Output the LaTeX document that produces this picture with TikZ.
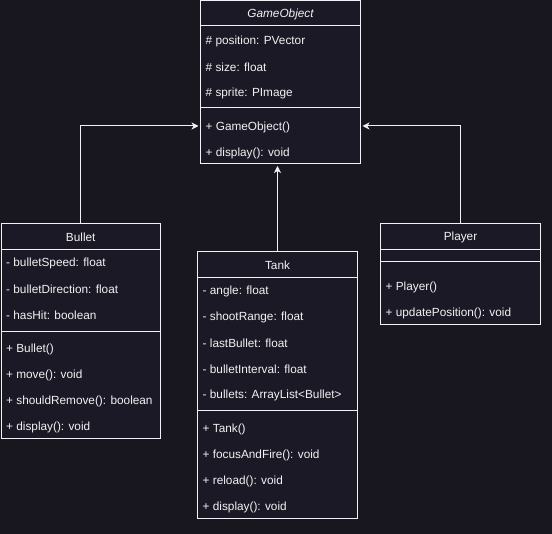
\documentclass[tikz,border=0pt]{standalone}
\usepackage{fontspec}
\setmainfont{Liberation Sans}
\usetikzlibrary{arrows.meta}
\definecolor{bg}{HTML}{18161F}
\definecolor{boxfill}{HTML}{1B1926}
\definecolor{ink}{HTML}{F2F2F2}
\begin{document}
\begin{tikzpicture}[x=1pt,y=-1pt,
  classbox/.style={draw=ink,fill=boxfill,line width=1pt,anchor=north west,inner sep=0pt,outer sep=0pt},
  member/.style={anchor=west,text=ink,inner sep=0pt,yshift=-1pt,font=\fontsize{11.8}{14}\selectfont},
  title/.style={anchor=center,text=ink,inner sep=0pt,yshift=-1pt,font=\fontsize{11.8}{14}\selectfont},
  sepline/.style={draw=ink,line width=1pt},
  inherit/.style={draw=ink,line width=1pt,-{Stealth[length=7pt,width=7pt,inset=2pt]},shorten >=2pt}]
\fill[bg] (0,0) rectangle (552,534);
\useasboundingbox (0,0) rectangle (552,534);

% GameObject
\node[classbox,minimum width=160pt,minimum height=163.5pt] (go) at (200.5,0.5) {};
\draw[sepline] (200.5,26) -- (360.5,26);
\draw[sepline] (200.5,108) -- (360.5,108);
\node[title] (got) at (280.5,13.5) {\itshape GameObject};
\node[member] (goa1) at (205.5,40) {\# position: PVector};
\node[member] (goa2) at (205.5,66) {\# size: float};
\node[member] (goa3) at (205.5,92) {\# sprite: PImage};
\node[member] (gom1) at (205.5,126) {+ GameObject()};
\node[member] (gom2) at (205.5,152) {+ display(): void};

% Bullet
\node[classbox,minimum width=159.5pt,minimum height=215.5pt] (bullet) at (1,223.5) {};
\draw[sepline] (1,249.5) -- (160.5,249.5);
\draw[sepline] (1,331.5) -- (160.5,331.5);
\node[title] (bt) at (80.75,236.5) {Bullet};
\node[member] (ba1) at (6,262.5) {- bulletSpeed: float};
\node[member] (ba2) at (6,288.5) {- bulletDirection: float};
\node[member] (ba3) at (6,314.5) {- hasHit: boolean};
\node[member] (bm1) at (6,348.5) {+ Bullet()};
\node[member] (bm2) at (6,374.5) {+ move(): void};
\node[member] (bm3) at (6,400.5) {+ shouldRemove(): boolean};
\node[member] (bm4) at (6,426.5) {+ display(): void};

% Tank
\node[classbox,minimum width=160pt,minimum height=267.5pt] (tank) at (197.5,251.5) {};
\draw[sepline] (197.5,277.5) -- (357.5,277.5);
\draw[sepline] (197.5,410.5) -- (357.5,410.5);
\node[title] (tt) at (277.5,264.5) {Tank};
\node[member] (ta1) at (202.5,290.5) {- angle: float};
\node[member] (ta2) at (202.5,316.5) {- shootRange: float};
\node[member] (ta3) at (202.5,342.5) {- lastBullet: float};
\node[member] (ta4) at (202.5,368.5) {- bulletInterval: float};
\node[member] (ta5) at (202.5,394.5) {- bullets: ArrayList<Bullet>};
\node[member] (tm1) at (202.5,428.5) {+ Tank()};
\node[member] (tm2) at (202.5,454.5) {+ focusAndFire(): void};
\node[member] (tm3) at (202.5,480.5) {+ reload(): void};
\node[member] (tm4) at (202.5,506.5) {+ display(): void};

% Player
\node[classbox,minimum width=160pt,minimum height=101.5pt] (player) at (380.5,223.5) {};
\draw[sepline] (380.5,249.5) -- (540.5,249.5);
\draw[sepline] (380.5,261.5) -- (540.5,261.5);
\node[title] (pt) at (460.5,236.5) {Player};
\node[member] (pm1) at (385.5,286.5) {+ Player()};
\node[member] (pm2) at (385.5,312.5) {+ updatePosition(): void};

% inheritance
\draw[inherit] (bullet.north) |- ([yshift=1pt]go.west |- gom1);
\draw[inherit] (player.north) |- ([yshift=1pt]go.east |- gom1);
\draw[inherit] (tank.north) -- (tank.north |- go.south);
\end{tikzpicture}
\end{document}
